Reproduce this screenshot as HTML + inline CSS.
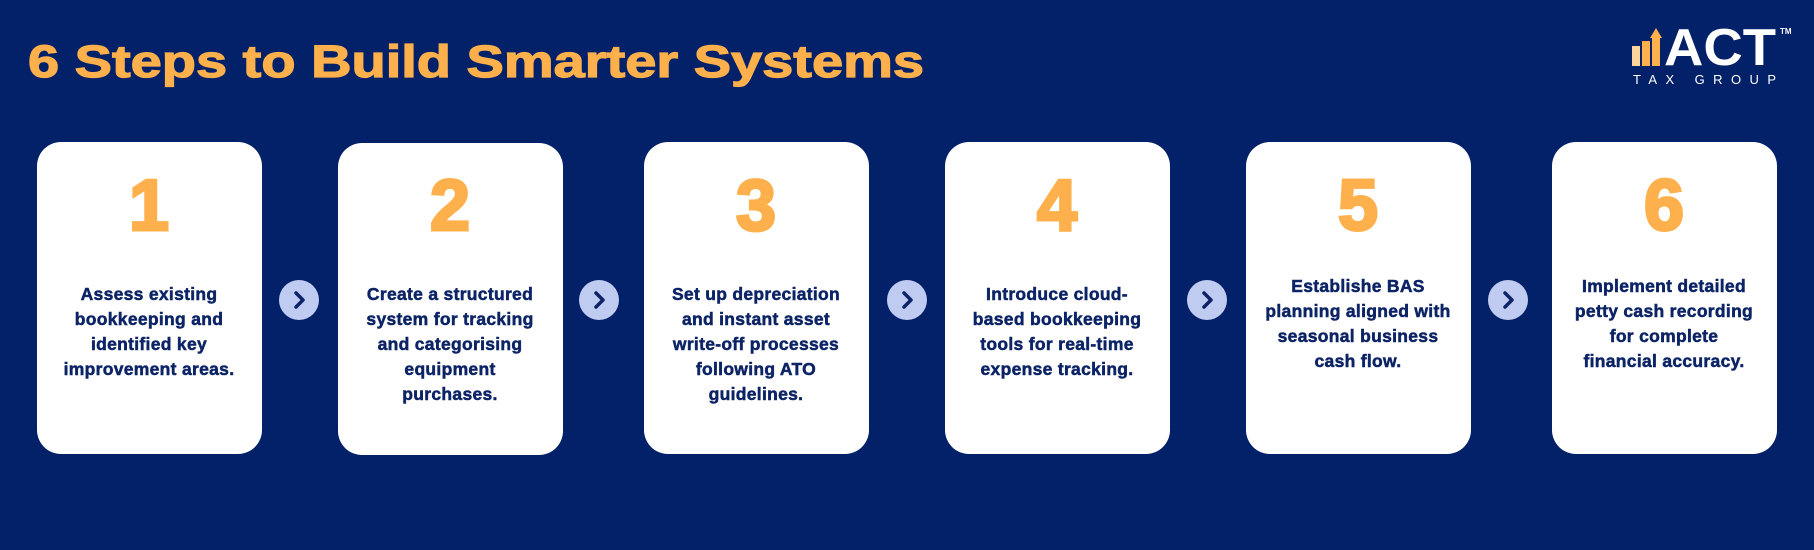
<!DOCTYPE html>
<html><head><meta charset="utf-8"><style>
html,body{margin:0;padding:0;background:#022169;}
svg{display:block;}
.t{font-family:"Liberation Sans",sans-serif;font-weight:bold;fill:#0c2466;stroke:#0c2466;stroke-width:0.5px;font-size:17.5px;text-anchor:middle;letter-spacing:0.3px;}
.n{font-family:"Liberation Sans",sans-serif;font-weight:bold;fill:#fdb04b;stroke:#fdb04b;stroke-width:3px;font-size:72px;text-anchor:middle;}
</style></head><body>
<svg width="1814" height="550" viewBox="0 0 1814 550" xmlns="http://www.w3.org/2000/svg">
<rect width="1814" height="550" fill="#022169"/>
<text x="28" y="77" font-family="Liberation Sans,sans-serif" font-weight="bold" font-size="45" fill="#fdb04b" stroke="#fdb04b" stroke-width="1.2" textLength="896" lengthAdjust="spacingAndGlyphs">6 Steps to Build Smarter Systems</text>
<!-- logo -->
<rect x="1632" y="46" width="8" height="20" fill="#fdd59a"/>
<rect x="1642" y="41" width="8" height="25" fill="#fdb04b"/>
<rect x="1652" y="38" width="8" height="28" fill="#fdb04b"/>
<polygon points="1650,38 1656,28 1662,38" fill="#fdb04b"/>
<text x="1664" y="65" font-family="Liberation Sans,sans-serif" font-weight="bold" font-size="52" fill="#fff" textLength="112" lengthAdjust="spacingAndGlyphs">ACT</text>
<text x="1780" y="34" font-family="Liberation Sans,sans-serif" font-weight="bold" font-size="8" fill="#fff">TM</text>
<text x="1633" y="84" font-family="Liberation Sans,sans-serif" font-size="13" fill="#fff" textLength="143" lengthAdjust="spacing">TAX GROUP</text>

<g fill="#fff">
<rect x="37" y="142" width="225" height="312" rx="24"/>
<rect x="338" y="143" width="225" height="312" rx="24"/>
<rect x="644" y="142" width="225" height="312" rx="24"/>
<rect x="945" y="142" width="225" height="312" rx="24"/>
<rect x="1246" y="142" width="225" height="312" rx="24"/>
<rect x="1552" y="142" width="225" height="312" rx="24"/>
</g>
<g fill="#c0cbf2">
<circle cx="299" cy="300" r="20"/><circle cx="599" cy="300" r="20"/><circle cx="907" cy="300" r="20"/><circle cx="1207" cy="300" r="20"/><circle cx="1508" cy="300" r="20"/>
</g>
<g fill="none" stroke="#0c2466" stroke-width="3.5" stroke-linecap="round" stroke-linejoin="round">
<polyline points="296,293 303,300 296,307"/><polyline points="596,293 603,300 596,307"/><polyline points="904,293 911,300 904,307"/><polyline points="1204,293 1211,300 1204,307"/><polyline points="1505,293 1512,300 1505,307"/>
</g>
<text class="n" x="149" y="230">1</text>
<text class="n" x="450" y="230">2</text>
<text class="n" x="756" y="230">3</text>
<text class="n" x="1057" y="230">4</text>
<text class="n" x="1358" y="230">5</text>
<text class="n" x="1664" y="230">6</text>
<text class="t" x="149" y="300"><tspan x="149">Assess existing</tspan><tspan x="149" dy="25">bookkeeping and</tspan><tspan x="149" dy="25">identified key</tspan><tspan x="149" dy="25">improvement areas.</tspan></text>
<text class="t" x="450" y="300"><tspan x="450">Create a structured</tspan><tspan x="450" dy="25">system for tracking</tspan><tspan x="450" dy="25">and categorising</tspan><tspan x="450" dy="25">equipment</tspan><tspan x="450" dy="25">purchases.</tspan></text>
<text class="t" x="756" y="300"><tspan x="756">Set up depreciation</tspan><tspan x="756" dy="25">and instant asset</tspan><tspan x="756" dy="25">write-off processes</tspan><tspan x="756" dy="25">following ATO</tspan><tspan x="756" dy="25">guidelines.</tspan></text>
<text class="t" x="1057" y="300"><tspan x="1057">Introduce cloud-</tspan><tspan x="1057" dy="25">based bookkeeping</tspan><tspan x="1057" dy="25">tools for real-time</tspan><tspan x="1057" dy="25">expense tracking.</tspan></text>
<text class="t" x="1358" y="292"><tspan x="1358">Establishe BAS</tspan><tspan x="1358" dy="25">planning aligned with</tspan><tspan x="1358" dy="25">seasonal business</tspan><tspan x="1358" dy="25">cash flow.</tspan></text>
<text class="t" x="1664" y="292"><tspan x="1664">Implement detailed</tspan><tspan x="1664" dy="25">petty cash recording</tspan><tspan x="1664" dy="25">for complete</tspan><tspan x="1664" dy="25">financial accuracy.</tspan></text>
</svg>
</body></html>
